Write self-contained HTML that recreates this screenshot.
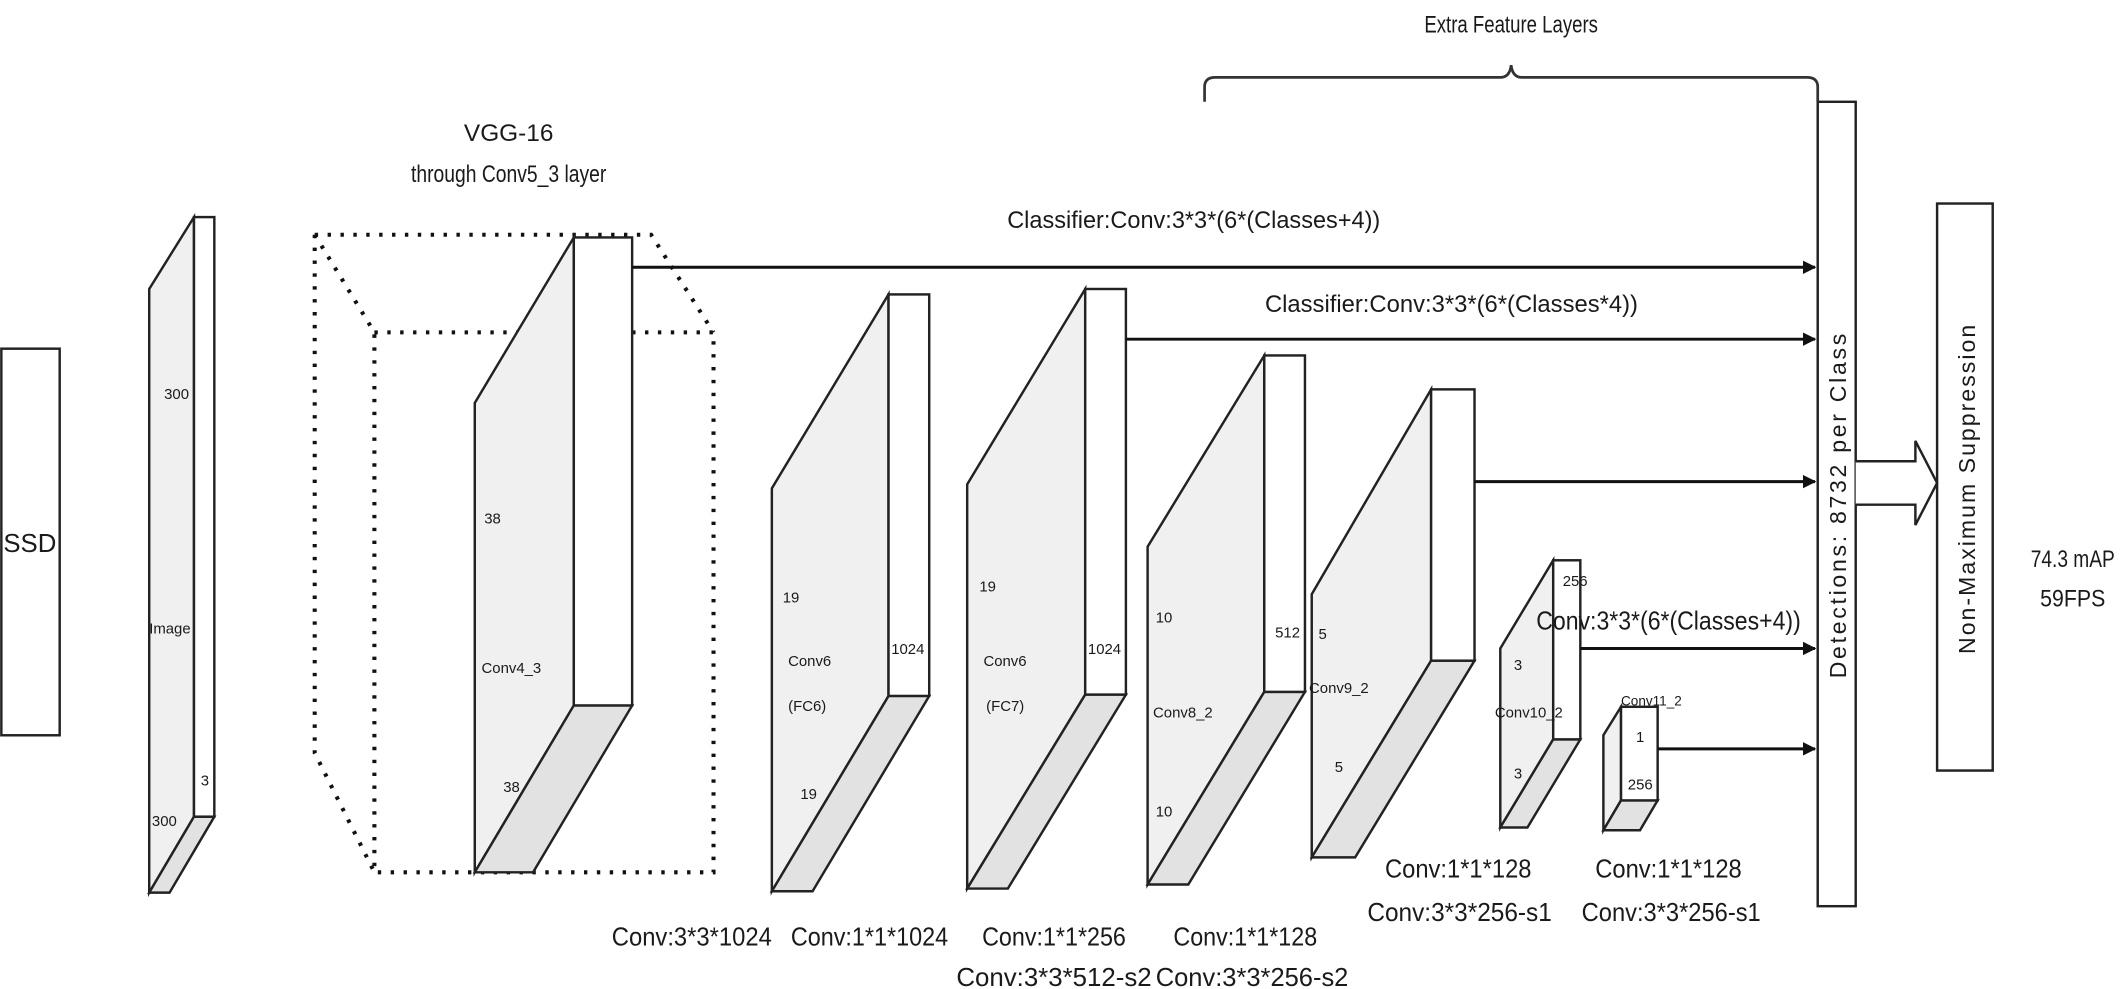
<!DOCTYPE html>
<html><head><meta charset="utf-8"><style>
html,body{margin:0;padding:0;background:#fff;}
svg{display:block;}
text{font-family:"Liberation Sans",sans-serif;fill:#1a1a1a;}
.s{font-size:11px;fill:#555;}
</style></head><body>
<svg width="2127" height="989" viewBox="0 0 1568 729" xmlns="http://www.w3.org/2000/svg">
<defs><marker id="ah" markerWidth="10" markerHeight="10" refX="9" refY="5" orient="auto" markerUnits="userSpaceOnUse"><path d="M0,0 L10,5 L0,10 z" fill="#111"/></marker></defs>
<g stroke="#222" stroke-width="1.8" fill="none">
<rect x="1" y="257" width="43" height="285" fill="#fff"/>
<g stroke="#111" stroke-width="3" stroke-dasharray="2.5,7">
<path d="M232,173 L480,173 L526,245"/>
<path d="M232,173 L276,245"/>
<path d="M232,173 L232,555 L276,643"/>
<rect x="276" y="245" width="250" height="398"/>
</g>
</g>
<g stroke="#222" stroke-width="1.8">
<polygon points="143,160 110,213 110,658 143,602" fill="#f0f0f0"/>
<polygon points="143,602 158,602 125,658 110,658" fill="#e2e2e2"/>
<rect x="143" y="160" width="15" height="442" fill="#fff"/>
<polygon points="423,175 350,297 350,643 423,520" fill="#f0f0f0"/>
<polygon points="423,520 466,520 393,643 350,643" fill="#e2e2e2"/>
<rect x="423" y="175" width="43" height="345" fill="#fff"/>
<polygon points="655,217 569,360 569,657 655,513" fill="#f0f0f0"/>
<polygon points="655,513 685,513 599,657 569,657" fill="#e2e2e2"/>
<rect x="655" y="217" width="30" height="296" fill="#fff"/>
<polygon points="800,213 713,357 713,655 800,512" fill="#f0f0f0"/>
<polygon points="800,512 830,512 743,655 713,655" fill="#e2e2e2"/>
<rect x="800" y="213" width="30" height="299" fill="#fff"/>
<polygon points="932,262 846,403 846,652 932,510" fill="#f0f0f0"/>
<polygon points="932,510 962,510 876,652 846,652" fill="#e2e2e2"/>
<rect x="932" y="262" width="30" height="248" fill="#fff"/>
<polygon points="1055,287 967,438 967,632 1055,487" fill="#f0f0f0"/>
<polygon points="1055,487 1087,487 999,632 967,632" fill="#e2e2e2"/>
<rect x="1055" y="287" width="32" height="200" fill="#fff"/>
<polygon points="1145,413 1106,478 1106,610 1145,545" fill="#f0f0f0"/>
<polygon points="1145,545 1165,545 1126,610 1106,610" fill="#e2e2e2"/>
<rect x="1145" y="413" width="20" height="132" fill="#fff"/>
<polygon points="1195,521 1182,542 1182,612 1195,590" fill="#f0f0f0"/>
<polygon points="1195,590 1222,590 1209,612 1182,612" fill="#e2e2e2"/>
<rect x="1195" y="521" width="27" height="69" fill="#fff"/>
<rect x="1340" y="75" width="28" height="593" fill="#fff"/>
<rect x="1428" y="150" width="41" height="418" fill="#fff"/>
<path d="M1368,340 L1412,340 L1412,325 L1428,356 L1412,387 L1412,372 L1368,372" fill="#fff"/>
</g>
<g stroke="#111" stroke-width="2.2" marker-end="url(#ah)">
<line x1="466" y1="197" x2="1338" y2="197"/>
<line x1="830" y1="250" x2="1338" y2="250"/>
<line x1="1087" y1="355" x2="1338" y2="355"/>
<line x1="1165" y1="478" x2="1338" y2="478"/>
<line x1="1222" y1="552" x2="1338" y2="552"/>
</g>
<path d="M888,75 L888,64 Q888,57 896,57 L1106,57 Q1113,57 1114,48 Q1115,57 1122,57 L1332,57 Q1340,57 1340,64 L1340,75" stroke="#333" stroke-width="2" fill="none"/>
<text x="1114" y="24" text-anchor="middle" font-size="18" textLength="128" lengthAdjust="spacingAndGlyphs">Extra Feature Layers</text>
<text x="375" y="104" text-anchor="middle" font-size="18" textLength="66" lengthAdjust="spacingAndGlyphs">VGG-16</text>
<text x="375" y="134" text-anchor="middle" font-size="18" textLength="144" lengthAdjust="spacingAndGlyphs">through Conv5_3 layer</text>
<text x="880" y="168" text-anchor="middle" font-size="18" textLength="275" lengthAdjust="spacingAndGlyphs">Classifier:Conv:3*3*(6*(Classes+4))</text>
<text x="1070" y="230" text-anchor="middle" font-size="18" textLength="275" lengthAdjust="spacingAndGlyphs">Classifier:Conv:3*3*(6*(Classes*4))</text>
<text x="1230" y="464" text-anchor="middle" font-size="19" textLength="195" lengthAdjust="spacingAndGlyphs">Conv:3*3*(6*(Classes+4))</text>
<text x="22" y="407" text-anchor="middle" font-size="19">SSD</text>
<text transform="translate(1361,372) rotate(-90)" text-anchor="middle" font-size="17" letter-spacing="2">Detections: 8732 per Class</text>
<text transform="translate(1456,360) rotate(-90)" text-anchor="middle" font-size="17" letter-spacing="1.5">Non-Maximum Suppression</text>
<text x="1528" y="418" text-anchor="middle" font-size="18" textLength="62" lengthAdjust="spacingAndGlyphs">74.3 mAP</text>
<text x="1528" y="447" text-anchor="middle" font-size="18" textLength="48" lengthAdjust="spacingAndGlyphs">59FPS</text>
<g>
<text x="510" y="697" text-anchor="middle" font-size="19" textLength="118" lengthAdjust="spacingAndGlyphs">Conv:3*3*1024</text>
<text x="641" y="697" text-anchor="middle" font-size="19" textLength="116" lengthAdjust="spacingAndGlyphs">Conv:1*1*1024</text>
<text x="777" y="697" text-anchor="middle" font-size="19" textLength="106" lengthAdjust="spacingAndGlyphs">Conv:1*1*256</text>
<text x="777" y="727" text-anchor="middle" font-size="19" textLength="144" lengthAdjust="spacingAndGlyphs">Conv:3*3*512-s2</text>
<text x="918" y="697" text-anchor="middle" font-size="19" textLength="106" lengthAdjust="spacingAndGlyphs">Conv:1*1*128</text>
<text x="923" y="727" text-anchor="middle" font-size="19" textLength="142" lengthAdjust="spacingAndGlyphs">Conv:3*3*256-s2</text>
<text x="1075" y="647" text-anchor="middle" font-size="19" textLength="108" lengthAdjust="spacingAndGlyphs">Conv:1*1*128</text>
<text x="1076" y="679" text-anchor="middle" font-size="19" textLength="136" lengthAdjust="spacingAndGlyphs">Conv:3*3*256-s1</text>
<text x="1230" y="647" text-anchor="middle" font-size="19" textLength="108" lengthAdjust="spacingAndGlyphs">Conv:1*1*128</text>
<text x="1232" y="679" text-anchor="middle" font-size="19" textLength="132" lengthAdjust="spacingAndGlyphs">Conv:3*3*256-s1</text>
</g>
<g class="s">
<text x="121" y="294">300</text>
<text x="110" y="467">Image</text>
<text x="148" y="579">3</text>
<text x="112" y="609">300</text>
<text x="357" y="386">38</text>
<text x="355" y="496">Conv4_3</text>
<text x="371" y="584">38</text>
<text x="577" y="444">19</text>
<text x="581" y="491">Conv6</text>
<text x="581" y="524">(FC6)</text>
<text x="590" y="589">19</text>
<text x="657" y="482">1024</text>
<text x="722" y="436">19</text>
<text x="725" y="491">Conv6</text>
<text x="727" y="524">(FC7)</text>
<text x="802" y="482">1024</text>
<text x="852" y="459">10</text>
<text x="940" y="470">512</text>
<text x="850" y="529">Conv8_2</text>
<text x="852" y="602">10</text>
<text x="972" y="471">5</text>
<text x="965" y="511">Conv9_2</text>
<text x="984" y="569">5</text>
<text x="1152" y="432">256</text>
<text x="1116" y="494">3</text>
<text x="1102" y="529">Conv10_2</text>
<text x="1116" y="574">3</text>
<text x="1195" y="520" font-size="10">Conv11_2</text>
<text x="1206" y="547">1</text>
<text x="1200" y="582">256</text>
</g>
</svg>
</body></html>
